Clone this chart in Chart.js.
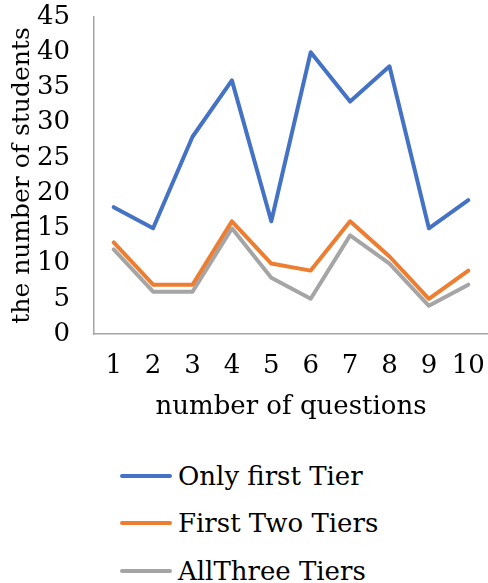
<!DOCTYPE html>
<html>
<head>
<meta charset="utf-8">
<script src="https://cdn.jsdelivr.net/npm/chart.js@4.4.0/dist/chart.umd.min.js"></script>
<style>
  html, body { margin: 0; padding: 0; background: #fff; }
  #wrap { position: relative; width: 488px; height: 583px; }
  #chartBox { position: absolute; left: 0; top: 0; width: 488px; height: 440px; }
  #legend { position: absolute; left: 120px; top: 452px; font-family: "DejaVu Serif", serif; font-size: 26px; color: #000; }
  .item { display: flex; align-items: center; height: 47.5px; }
  .swatch { width: 52px; height: 4px; border-radius: 2px; margin-right: 6px; }
</style>
</head>
<body>
<div id="wrap">
  <div id="chartBox"><canvas id="lineChart"></canvas></div>
  <div id="legend"></div>
</div>
<script>
const questions = ["1", "2", "3", "4", "5", "6", "7", "8", "9", "10"];
const onlyFirstTier = [18, 15, 28, 36, 16, 40, 33, 38, 15, 19];
const firstTwoTiers = [13, 7, 7, 16, 10, 9, 16, 11, 5, 9];
const allThreeTiers = [12, 6, 6, 15, 8, 5, 14, 10, 4, 7];
const seriesNames = ["Only first Tier", "First Two Tiers", "AllThree Tiers"];

const FONT = "'DejaVu Serif', serif";
const axisColor = "#A6A6A6";

function series(label, data, color) {
  return {
    label: label,
    data: data,
    borderColor: color,
    backgroundColor: color,
    borderWidth: 4,
    borderJoinStyle: "round",
    borderCapStyle: "round",
    pointRadius: 0,
    tension: 0,
    fill: false,
  };
}

const chart = new Chart(document.getElementById("lineChart"), {
  type: "line",
  data: {
    labels: questions,
    datasets: [
      series(seriesNames[0], onlyFirstTier, "#4472C4"),
      series(seriesNames[1], firstTwoTiers, "#ED7D31"),
      series(seriesNames[2], allThreeTiers, "#A5A5A5"),
    ],
  },
  options: {
    responsive: true,
    maintainAspectRatio: false,
    animation: false,
    layout: { padding: { top: 17, right: 0, bottom: 0, left: 0 } },
    plugins: {
      legend: { display: false },
      tooltip: { enabled: false },
    },
    scales: {
      x: {
        offset: true,
        grid: { display: false, drawTicks: false },
        border: { display: true, color: axisColor, width: 1.5 },
        ticks: { color: "#000", font: { family: FONT, size: 26 }, padding: 17, maxRotation: 0, autoSkip: false },
        title: {
          display: true,
          text: "number of questions",
          color: "#000",
          font: { family: FONT, size: 26 },
          padding: { top: 0, bottom: 17 },
        },
        afterFit: (scale) => {
          scale.height = 106;
          scale.paddingLeft = 0;
          scale.paddingRight = 0;
        },
      },
      y: {
        min: 0,
        max: 45,
        grid: { display: false, drawTicks: false },
        border: { display: true, color: axisColor, width: 1.5 },
        ticks: { stepSize: 5, color: "#000", font: { family: FONT, size: 26 }, padding: 24, autoSkip: false },
        title: {
          display: true,
          text: "the number of students",
          color: "#000",
          font: { family: FONT, size: 25 },
          padding: { top: 7, bottom: 0 },
        },
        afterFit: (scale) => {
          scale.width = 94;
          scale.paddingTop = 0;
          scale.paddingBottom = 0;
        },
      },
    },
  },
});

// legend built from the chart's datasets, stacked vertically
const legendEl = document.getElementById("legend");
chart.data.datasets.forEach((ds) => {
  const row = document.createElement("div");
  row.className = "item";
  row.innerHTML = `<span class="swatch" style="background:${ds.borderColor}"></span><span>${ds.label}</span>`;
  legendEl.appendChild(row);
});
</script>
</body>
</html>
